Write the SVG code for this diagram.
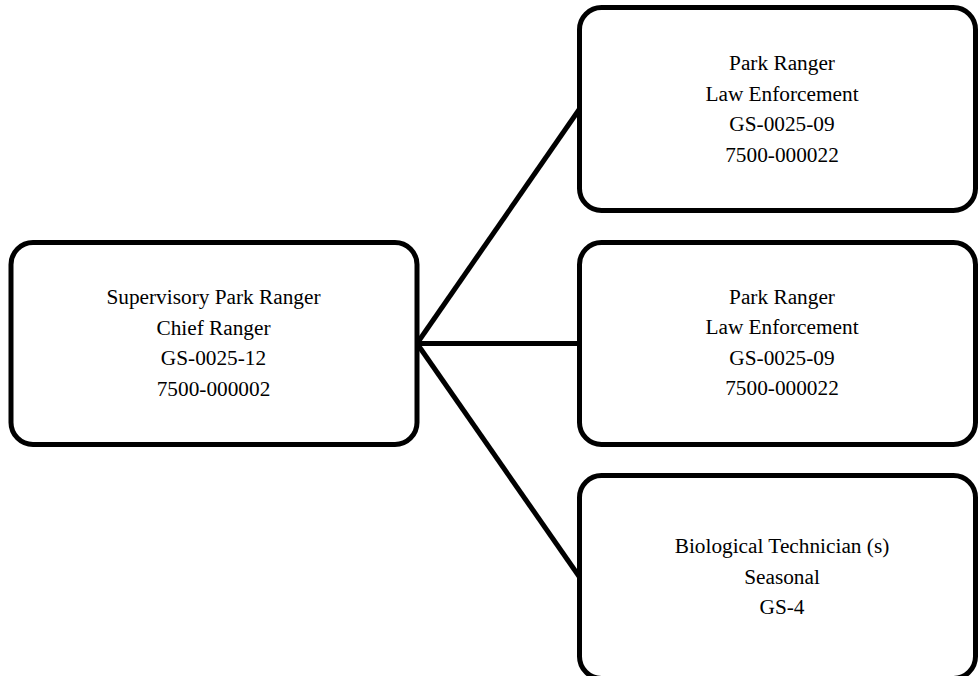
<svg xmlns="http://www.w3.org/2000/svg" width="979" height="676" viewBox="0 0 979 676">
<style>
.box{fill:#fff;stroke:#000;stroke-width:5}
.conn{stroke:#000;stroke-width:5;fill:none}
text{font-family:"Liberation Serif","Times New Roman",serif;font-size:21.3px;fill:#000;text-anchor:middle}
</style>
<rect width="979" height="676" fill="#fff"/>
<g id="connectors">
<line class="conn" x1="417" y1="343.5" x2="579.5" y2="109"/>
<line class="conn" x1="417" y1="343.5" x2="579.5" y2="343.5"/>
<line class="conn" x1="417" y1="343.5" x2="579.5" y2="577"/>
</g>
<g id="chief">
<rect class="box" x="11" y="242.5" width="406" height="202" rx="22"/>
<text x="213.5" y="304">Supervisory Park Ranger</text>
<text x="213.5" y="334.5">Chief Ranger</text>
<text x="213.5" y="365">GS-0025-12</text>
<text x="213.5" y="395.5">7500-000002</text>
</g>
<g id="ranger1">
<rect class="box" x="579.5" y="7.5" width="396" height="203" rx="22"/>
<text x="782" y="70">Park Ranger</text>
<text x="782" y="100.5">Law Enforcement</text>
<text x="782" y="131">GS-0025-09</text>
<text x="782" y="161.5">7500-000022</text>
</g>
<g id="ranger2">
<rect class="box" x="579.5" y="242.5" width="396" height="202" rx="22"/>
<text x="782" y="303.5">Park Ranger</text>
<text x="782" y="334">Law Enforcement</text>
<text x="782" y="364.5">GS-0025-09</text>
<text x="782" y="395">7500-000022</text>
</g>
<g id="biotech">
<rect class="box" x="579.5" y="475.5" width="396" height="203" rx="22"/>
<text x="782" y="553">Biological Technician (s)</text>
<text x="782" y="583.5">Seasonal</text>
<text x="782" y="613.5">GS-4</text>
</g>
</svg>
